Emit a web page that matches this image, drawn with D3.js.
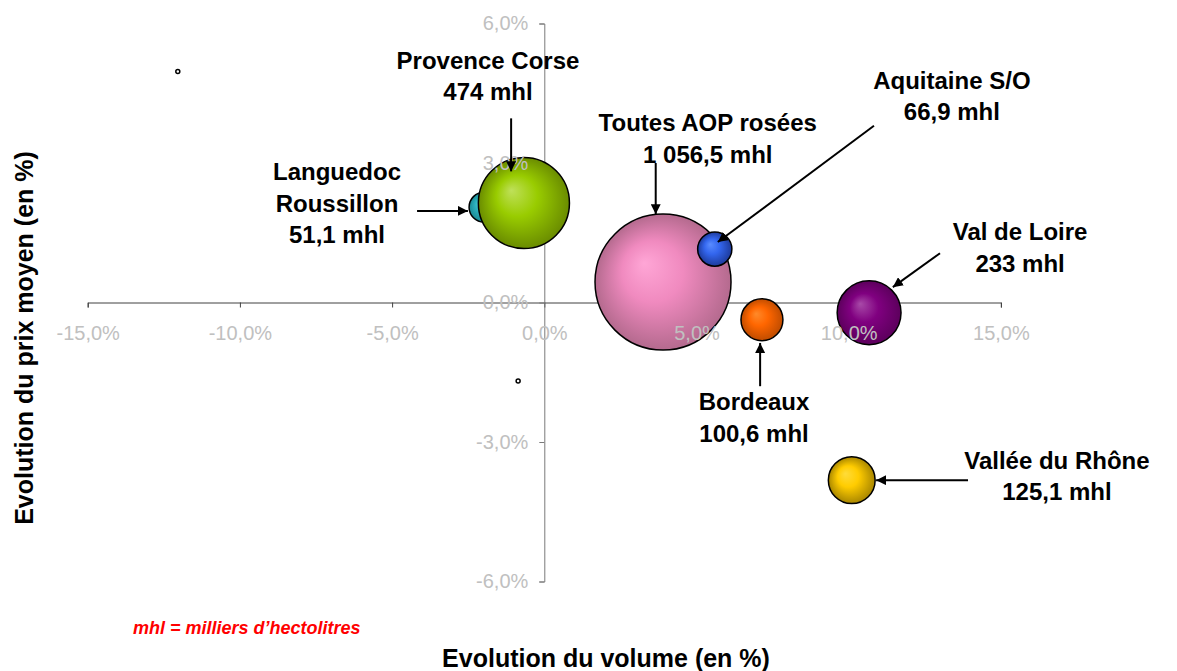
<!DOCTYPE html>
<html>
<head>
<meta charset="utf-8">
<script src="https://cdn.jsdelivr.net/npm/d3@7"></script>
<style>
  body { margin: 0; background: #fff; }
  svg { display: block; font-family: "Liberation Sans", Arial, sans-serif; }
</style>
</head>
<body>
<svg id="chart"></svg>
<script>
// bubbles: evolution du volume (%), evolution du prix moyen (%), volume (mhl)
const regions = ["Languedoc Roussillon", "Provence Corse", "Toutes AOP rosées", "Aquitaine S/O", "Bordeaux", "Val de Loire", "Vallée du Rhône"];
const labelLines = [["Languedoc", "Roussillon"], ["Provence Corse"], ["Toutes AOP rosées"], ["Aquitaine S/O"], ["Bordeaux"], ["Val de Loire"], ["Vallée du Rhône"]];
const volEvol = [-1.98, -0.67, 3.9, 5.6, 7.15, 10.67, 10.1];
const prixEvol = [2.05, 2.14, 0.44, 1.15, -0.37, -0.22, -3.82];
const volumes = [51.1, 474, 1056.5, 66.9, 100.6, 233, 125.1];
const colors = [
  ["#4fd0d8", "#2bb0bc", "#1a8a94"],
  ["#bfe05a", "#99cc00", "#6a8c00"],
  ["#ffa6d6", "#f08abf", "#b46a8e"],
  ["#5a8cff", "#3366ee", "#1d3a9a"],
  ["#ff8a2a", "#ff6600", "#bf4c00"],
  ["#a84aa8", "#800080", "#5c005c"],
  ["#ffdc3a", "#ffcc00", "#a88600"]
];

// the two tiny points
const dotX = [-12.04, -0.86];
const dotY = [4.97, -1.69];

// annotation: label centre and arrow (data units)
const labelX = [-6.81, -1.85, 5.37, 13.39, 6.89, 15.63, 16.84];
const labelY = [2.81, 5.21, 3.86, 4.78, -2.14, 1.52, -3.39];
const arrowFrom = [[-4.18, 1.97], [-1.09, 3.96], [3.66, 3.0], [10.83, 3.8], [7.09, -1.8], [13.0, 1.06], [13.92, -3.82]];
const arrowTo = [[-2.51, 1.97], [-1.09, 2.82], [3.66, 1.9], [5.7, 1.3], [7.09, -0.87], [11.45, 0.33], [10.9, -3.82]];

const xTicks = [-15, -10, -5, 0, 5, 10, 15];
const yTicks = [-6, -3, 0, 3, 6];

const W = 1177, H = 671;
const svg = d3.select("#chart").attr("width", W).attr("height", H);

const x = d3.scaleLinear().domain([-15, 15]).range([87.7, 1000.9]);
const y = d3.scaleLinear().domain([-6, 6]).range([581.5, 23.5]);
const r = d3.scaleSqrt().domain([0, 1056.5]).range([0, 68]);

const loc = d3.formatLocale({ decimal: ",", thousands: " ", grouping: [3], currency: ["", ""], minus: "-" });
const pct = loc.format(".1f");
const vol = loc.format(",.1~f");

const defs = svg.append("defs");
colors.forEach((c, i) => {
  const g = defs.append("radialGradient").attr("id", "grad" + i)
    .attr("cx", 0.5).attr("cy", 0.5).attr("r", 0.5).attr("fx", 0.36).attr("fy", 0.36);
  g.append("stop").attr("offset", 0).attr("stop-color", c[0]);
  g.append("stop").attr("offset", 0.45).attr("stop-color", c[1]);
  g.append("stop").attr("offset", 1).attr("stop-color", c[2]);
});
defs.append("marker").attr("id", "arrow")
  .attr("viewBox", "0 0 10 10").attr("refX", 10).attr("refY", 5)
  .attr("markerWidth", 5).attr("markerHeight", 5).attr("markerUnits", "strokeWidth")
  .attr("orient", "auto")
  .append("path").attr("d", "M0,0 L10,5 L0,10 z").attr("fill", "#000");

// axis lines (behind bubbles)
const axisCol = "#404040";
svg.append("g")
  .attr("transform", `translate(0,${y(0)})`)
  .call(d3.axisBottom(x).tickValues(xTicks).tickSize(5).tickFormat(""))
  .call(g => g.selectAll("path, line").attr("stroke", axisCol));
svg.append("g")
  .attr("transform", `translate(${x(0)},0)`)
  .call(d3.axisLeft(y).tickValues(yTicks).tickSize(5).tickFormat(""))
  .call(g => g.selectAll("path, line").attr("stroke", "#7a7a7a"));

// bubbles
const idx = d3.range(regions.length);
svg.selectAll(".bubble").data(idx).enter().append("circle")
  .attr("class", "bubble")
  .attr("cx", i => x(volEvol[i]))
  .attr("cy", i => y(prixEvol[i]))
  .attr("r", i => r(volumes[i]))
  .attr("fill", i => `url(#grad${i})`)
  .attr("stroke", "#000")
  .attr("stroke-width", 1.5);

svg.selectAll(".dot").data(dotX).enter().append("circle")
  .attr("class", "dot")
  .attr("cx", (d, i) => x(dotX[i]))
  .attr("cy", (d, i) => y(dotY[i]))
  .attr("r", 2)
  .attr("fill", "#fff")
  .attr("stroke", "#000")
  .attr("stroke-width", 1.5);

// tick labels (on top)
svg.append("g")
  .attr("transform", `translate(0,${y(0)})`)
  .call(d3.axisBottom(x).tickValues(xTicks).tickSize(5).tickPadding(18).tickFormat(d => pct(d) + "%"))
  .call(g => g.select(".domain").remove())
  .call(g => g.selectAll("line").remove())
  .call(g => g.selectAll("text").attr("fill", "#c0c0c0").attr("font-size", 20).attr("font-family", null));
svg.append("g")
  .attr("transform", `translate(${x(0)},0)`)
  .call(d3.axisLeft(y).tickValues(yTicks).tickSize(5).tickPadding(11).tickFormat(d => pct(d) + "%"))
  .call(g => g.select(".domain").remove())
  .call(g => g.selectAll("line").remove())
  .call(g => g.selectAll("text").attr("fill", "#c0c0c0").attr("font-size", 20).attr("font-family", null));

// arrows
svg.selectAll(".arrow").data(idx).enter().append("line")
  .attr("class", "arrow")
  .attr("x1", i => x(arrowFrom[i][0])).attr("y1", i => y(arrowFrom[i][1]))
  .attr("x2", i => x(arrowTo[i][0])).attr("y2", i => y(arrowTo[i][1]))
  .attr("stroke", "#000").attr("stroke-width", 2)
  .attr("marker-end", "url(#arrow)");

// labels
const lh = 31.5;
idx.forEach(i => {
  const lines = labelLines[i].concat([vol(volumes[i]) + " mhl"]);
  const t = svg.append("text")
    .attr("x", x(labelX[i]))
    .attr("y", y(labelY[i]))
    .attr("text-anchor", "middle")
    .attr("font-size", 24)
    .attr("font-weight", "bold")
    .attr("fill", "#000");
  lines.forEach((s, k) => {
    t.append("tspan").attr("x", x(labelX[i])).attr("dy", k === 0 ? "0.35em" : lh).text(s);
  });
});

// titles
svg.append("text")
  .attr("x", 606).attr("y", 667)
  .attr("text-anchor", "middle")
  .attr("font-size", 25).attr("font-weight", "bold")
  .text("Evolution du volume (en %)");
svg.append("text")
  .attr("transform", "translate(24,338) rotate(-90)")
  .attr("dy", "0.35em")
  .attr("text-anchor", "middle")
  .attr("font-size", 25).attr("font-weight", "bold")
  .text("Evolution du prix moyen (en %)");
svg.append("text")
  .attr("x", 133).attr("y", 628).attr("dy", "0.35em")
  .attr("font-size", 18).attr("font-weight", "bold").attr("font-style", "italic")
  .attr("fill", "#ff0000")
  .text("mhl = milliers d’hectolitres");
</script>
</body>
</html>
